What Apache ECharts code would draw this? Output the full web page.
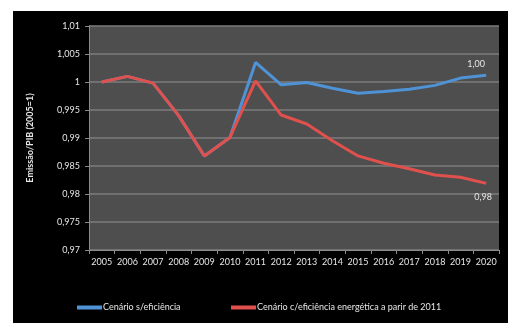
<!DOCTYPE html>
<html>
<head>
<meta charset="utf-8">
<script src="https://cdn.jsdelivr.net/npm/echarts@6/dist/echarts.min.js"></script>
<style>
  html, body { margin: 0; padding: 0; background: #ffffff; }
  #chart { position: absolute; left: 13px; top: 11px; width: 495px; height: 312px; background: #000000; }
</style>
</head>
<body>
<div id="chart"></div>
<script>
// Years on the horizontal axis
const years = ['2005','2006','2007','2008','2009','2010','2011','2012','2013','2014','2015','2016','2017','2018','2019','2020'];

// Emission / GDP index (2005 = 1)
const semEficiencia = [1.0000, 1.0010, 0.9998, 0.9940, 0.9868, 0.9901, 1.0035, 0.9995, 0.9999, 0.9989, 0.9980, 0.9983, 0.9987, 0.9994, 1.0007, 1.0012];
const comEficiencia = [1.0000, 1.0010, 0.9998, 0.9940, 0.9868, 0.9901, 1.0002, 0.9941, 0.9925, 0.9895, 0.9868, 0.9855, 0.9845, 0.9834, 0.9830, 0.9819];

// Value axis ticks
const yMin = 0.97, yMax = 1.01, yStep = 0.005;

const seriesNames = ['Cenário s/eficiência', 'Cenário c/eficiência energética a parir de 2011'];
const colors = ['#4f93d6', '#e0514d'];

// Label only the final point of each series
function withEndLabel(values, position, offset) {
  return values.map((v, i) => i === values.length - 1
    ? { value: v, label: { show: true, position: position, offset: offset,
        formatter: p => p.value.toFixed(2).replace('.', ','),
        color: '#e6e6e6', fontSize: 9, fontFamily: 'Lato' } }
    : v);
}

const chart = echarts.init(document.getElementById('chart'), null, { renderer: 'canvas' });

chart.setOption({
  animation: false,
  textStyle: { fontFamily: 'Lato' },
  grid: { left: 76, right: 9, top: 15, bottom: 73, show: true, backgroundColor: '#4e4e4e', borderWidth: 0 },
  xAxis: {
    type: 'category',
    data: years,
    boundaryGap: true,
    axisLine: { show: true, lineStyle: { color: '#8a8a8a', width: 1 } },
    axisTick: { show: true, alignWithLabel: false, length: 4, lineStyle: { color: '#8a8a8a' } },
    axisLabel: { color: '#e6e6e6', fontSize: 9, margin: 8, interval: 0 }
  },
  yAxis: {
    type: 'value',
    min: yMin, max: yMax, interval: yStep,
    name: 'Emissão/PIB (2005=1)',
    nameLocation: 'middle',
    nameGap: 54,
    nameTextStyle: { color: '#e6e6e6', fontSize: 9, fontWeight: 'bold', padding: [0, 0, 0, 0] },
    axisLine: { show: true, lineStyle: { color: '#8a8a8a' } },
    axisTick: { show: true, length: 4, lineStyle: { color: '#8a8a8a' } },
    axisLabel: {
      color: '#e6e6e6', fontSize: 9, margin: 9,
      formatter: v => {
        const s = parseFloat(v.toFixed(3)).toString();
        return s.replace('.', ',');
      }
    },
    splitLine: { show: true, lineStyle: { color: '#7c7c7c', width: 1.5 } }
  },
  legend: [
    {
      data: [seriesNames[0]], left: 59, top: 287,
      icon: 'rect', itemWidth: 25, itemHeight: 4, itemGap: 0,
      textStyle: { color: '#e6e6e6', fontSize: 9, padding: [0, 0, 0, -4] }
    },
    {
      data: [seriesNames[1]], left: 213, top: 287,
      icon: 'rect', itemWidth: 25, itemHeight: 4, itemGap: 0,
      textStyle: { color: '#e6e6e6', fontSize: 9, padding: [0, 0, 0, -4] }
    }
  ],
  series: [
    {
      name: seriesNames[0], type: 'line', data: withEndLabel(semEficiencia, 'top', [-10, -2]),
      symbol: 'circle', symbolSize: 0.1, showSymbol: true,
      color: colors[0], lineStyle: { width: 3, color: colors[0] }, z: 2
    },
    {
      name: seriesNames[1], type: 'line', data: withEndLabel(comEficiencia, 'bottom', [-3, 4]),
      symbol: 'circle', symbolSize: 0.1, showSymbol: true,
      color: colors[1], lineStyle: { width: 3, color: colors[1] }, z: 3
    }
  ]
});
</script>
</body>
</html>
